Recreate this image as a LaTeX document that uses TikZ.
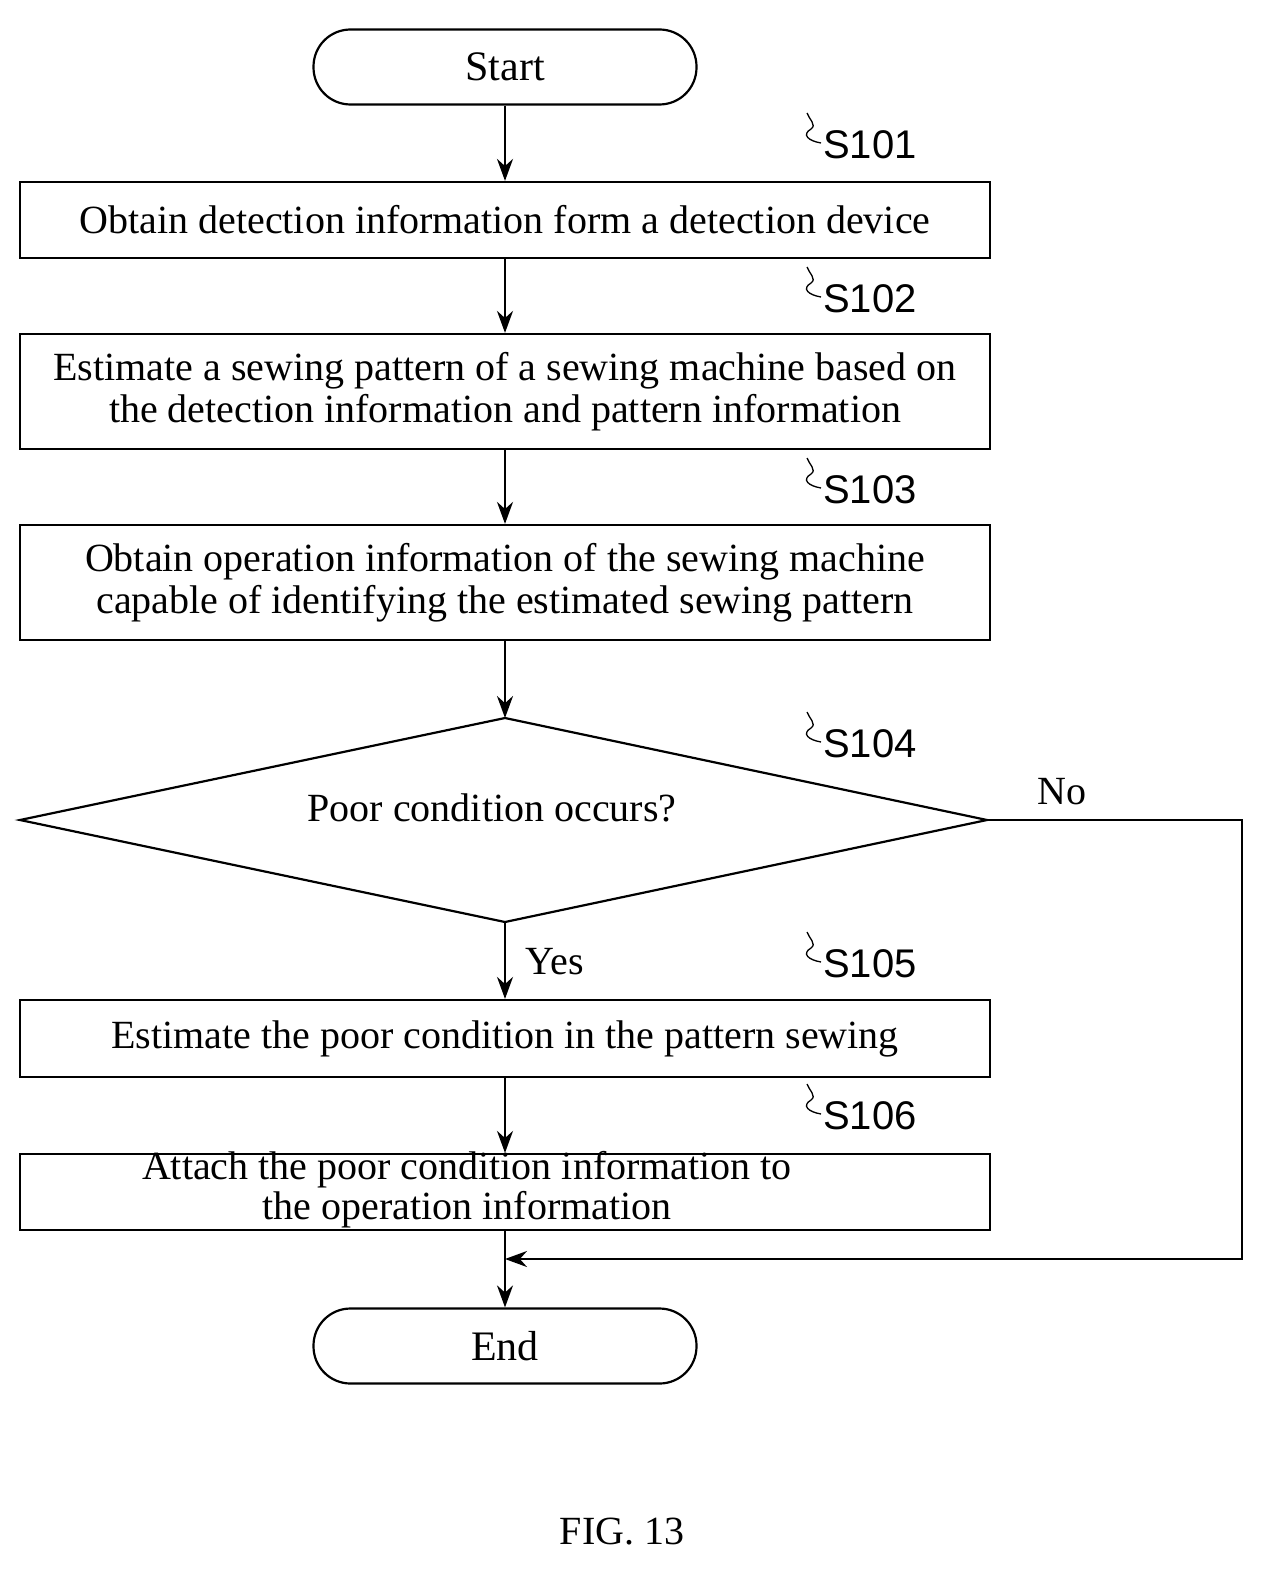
\documentclass[tikz,border=0pt]{standalone}
\usepackage{fontspec}
\setmainfont{Liberation Serif}
\newfontfamily\lab{Liberation Sans}
\usetikzlibrary{arrows.meta}
\begin{document}
\begin{tikzpicture}[x=1pt,y=-1pt,line width=2.2pt,
 box/.style={draw,rectangle,minimum width=970pt,align=center,font=\fontsize{40}{42}\selectfont,inner sep=0pt},
 term/.style={draw,rectangle,rounded corners=37pt,minimum width=383pt,minimum height=75pt,font=\fontsize{42}{44}\selectfont},
 arr/.style={-{Stealth[length=22pt,width=16pt]}},
 sl/.style={font=\lab\fontsize{40}{44}\selectfont,anchor=west}]
\useasboundingbox (-2,-2) rectangle (1278,1587);
\node[term] (start) at (503,65) {Start};
\node[box,minimum height=76pt] (s1) at (503,218) {Obtain detection information form a detection device};
\node[box,minimum height=115pt] (s2) at (503,389.5) {Estimate a sewing pattern of a sewing machine based on\\the detection information and pattern information};
\node[box,minimum height=115pt] (s3) at (503,580.5) {Obtain operation information of the sewing machine\\capable of identifying the estimated sewing pattern};
\coordinate (dt) at (503,716); \coordinate (db) at (503,920);
\coordinate (dl) at (18,818); \coordinate (dr) at (985,818);
\draw (dt) -- (dr) -- (db) -- (dl) -- cycle;
\node[font=\fontsize{40}{42}\selectfont] (dq) at (490,806) {Poor condition occurs?};
\node[box,minimum height=77pt] (s5) at (503,1036.5) {Estimate the poor condition in the pattern sewing};
\node[box,minimum height=76pt] (s6) at (503,1190) {};
\node[font=\fontsize{40}{40}\selectfont,align=center] (s6t) at (465,1188) {Attach the poor condition information to\\the operation information};
\node[term] (end) at (503,1344) {End};
\draw[arr] (start) -- (s1);
\draw[arr] (s1) -- (s2);
\draw[arr] (s2) -- (s3);
\draw[arr] (s3) -- (dt);
\draw[arr] (db) -- (s5);
\draw[arr] (s5) -- (s6);
\draw[arr] (s6) -- (end);
\coordinate (c1) at (1240,818); \coordinate (c2) at (1240,1257); \coordinate (c3) at (503,1257);
\draw[arr] (dr) -- (c1) -- (c2) -- (c3);
\node[font=\fontsize{40}{42}\selectfont] (yes) at (553,960) {Yes};
\node[font=\fontsize{40}{42}\selectfont] (no) at (1060,790) {No};
\foreach \n/\y in {S101/143,S102/297,S103/488,S104/742,S105/962,S106/1114}{
 \node[sl,inner sep=0pt] (l\n) at (820,\y) {\n};
 \draw[line width=1.3pt] ([xshift=-1pt,yshift=2pt]l\n.west) .. controls +(-12pt,2pt) and +(-10pt,-6pt) .. +(-10pt,14pt) .. controls +(6pt,4pt) and +(2pt,-6pt) .. +(-14pt,30pt);
}
\node[font=\fontsize{40}{42}\selectfont] (fig) at (620,1530) {FIG. 13};
\end{tikzpicture}
\end{document}
